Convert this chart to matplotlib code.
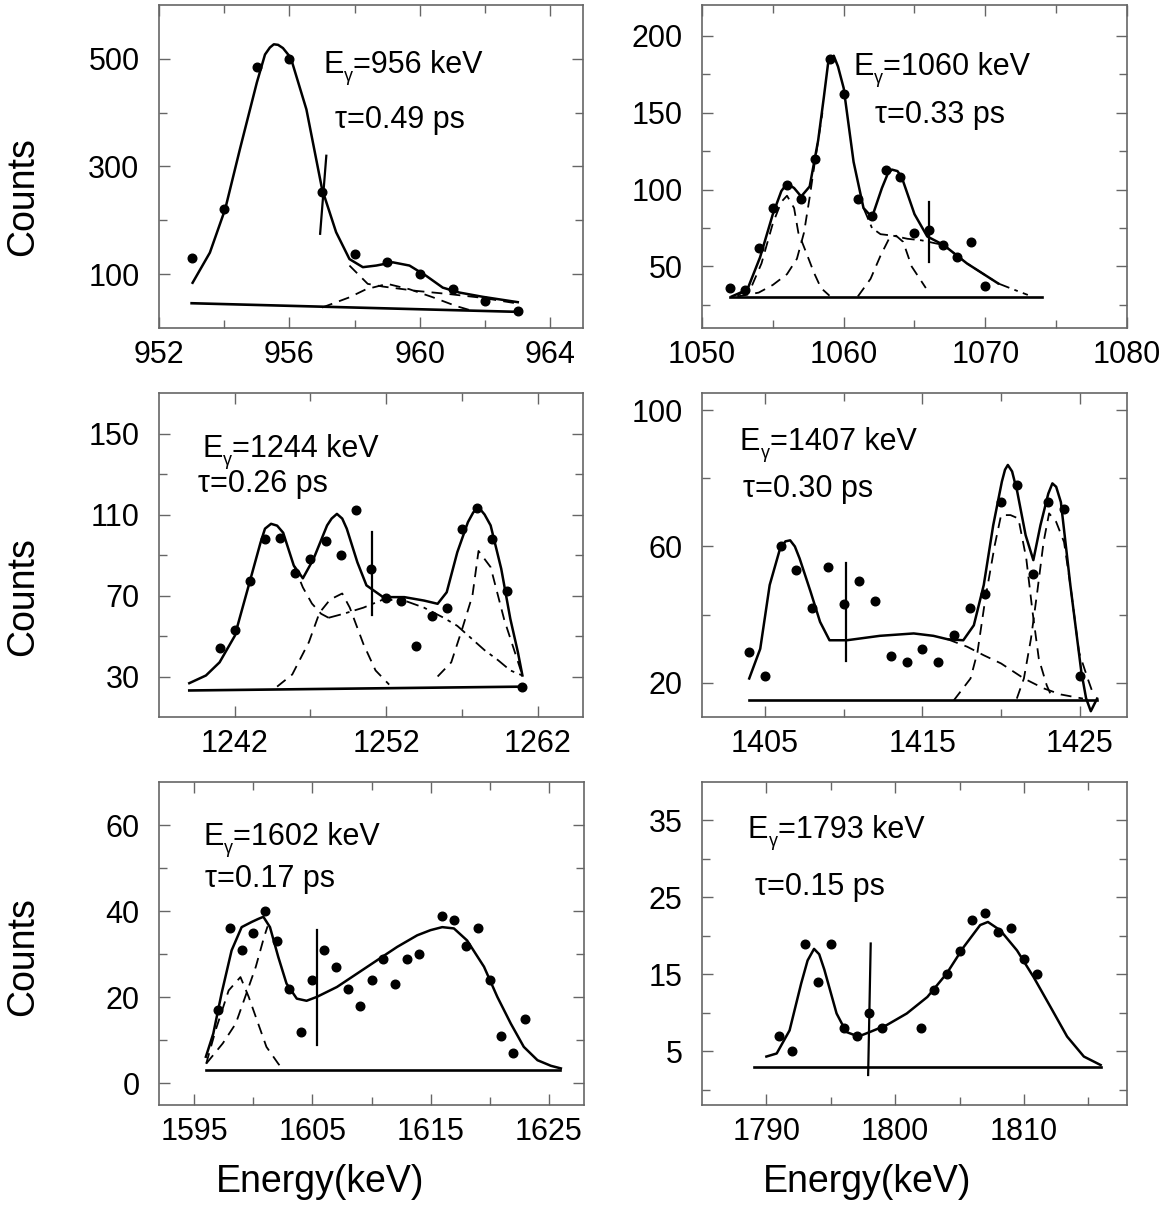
import matplotlib
matplotlib.use("Agg")
import matplotlib.pyplot as plt
from matplotlib.ticker import FixedLocator

plt.rcParams['font.family'] = ['Liberation Sans', 'DejaVu Sans']

## 956 keV
p956_x = [953, 954, 955, 956, 957, 958, 959, 960, 961, 962, 963]
p956_y = [130, 221, 485, 499, 253, 137, 122, 101, 72, 51, 32]
fit956_x = [953.03, 953.56, 954.03, 954.48, 955.0, 955.25, 955.4, 955.52, 955.65, 955.8, 956.04,
            956.52, 957.0, 957.43, 957.84, 958.25, 958.66, 959.17, 959.68, 960.19, 960.7,
            961.2, 961.92, 963.0]
fit956_y = [84, 140, 221, 332, 456, 508, 521, 527, 526, 520, 502,
            406, 258, 178, 128, 113, 116, 122, 116, 97, 75, 66, 58, 48]
base956_x = [953, 963]
base956_y = [46, 30]
peak956_x = [957.0, 957.84, 958.35, 959.0, 959.68, 960.4, 961.1, 961.6]
peak956_y = [38, 57, 72, 82, 72, 57, 41, 32]
tail956_x = [957.84, 958.4, 958.86, 959.88, 960.9, 961.92, 962.94]
tail956_y = [116, 82, 77, 69, 63, 56, 46]
mark956_x = [957.13, 956.94]
mark956_y = [320, 175]

## 1060 keV
p1060_x = [1052, 1053, 1054, 1055, 1056, 1057, 1058, 1059, 1060, 1061, 1062, 1063, 1064,
           1065, 1066, 1067, 1068, 1069, 1070]
p1060_y = [36, 35, 62, 88, 103, 94, 120, 185, 162, 94, 83, 113, 108, 72, 74, 64, 56, 66, 37]
fit1060_x = [1052.1, 1053.2, 1054.1, 1055.0, 1055.6, 1056.0, 1056.5, 1057.0, 1057.6, 1058.2,
             1058.6, 1058.9, 1059.3, 1059.6, 1060.0, 1060.7, 1061.4, 1062.0, 1062.7, 1063.1,
             1063.4, 1063.8, 1064.1, 1065.0, 1065.9, 1067.05, 1068.7, 1070.9]
fit1060_y = [30.5, 35, 56, 84, 99, 104, 101, 95.5, 102, 132, 160, 182, 187, 180, 166, 118, 88,
             82, 101, 110, 113, 112, 108, 84, 69.5, 64, 52, 39]
base1060_x = [1052, 1074]
base1060_y = [30, 30]
pk1_1060_x = [1052.5, 1053.5, 1054.2, 1055.0, 1055.6, 1056.0, 1056.5, 1056.8, 1057.4, 1057.9,
              1058.4, 1059.0]
pk1_1060_y = [31, 37, 52, 78, 92, 96, 88, 72, 58, 46, 36, 31]
pk2_1060_x = [1052.5, 1054.0, 1055.0, 1056.0, 1056.7, 1057.2, 1057.6, 1058.0, 1058.5]
pk2_1060_y = [30.5, 33, 38, 45, 55, 72, 95, 120, 150]
pk3_1060_x = [1061.0, 1061.9, 1062.6, 1063.2, 1063.7, 1064.2, 1064.8, 1065.8]
pk3_1060_y = [30.5, 42, 57, 68, 70, 66, 50, 36]
tail1060_x = [1061.4, 1062.0, 1062.6, 1063.5, 1064.5, 1065.5, 1066.5, 1067.05, 1068.7, 1070.9,
              1072.0, 1073.0]
tail1060_y = [88, 75, 71, 70, 68, 67, 65, 64, 52, 39, 35, 31.5]
mark1060_x = [1066, 1066]
mark1060_y = [53, 92]

## 1244 keV
p1244_x = [1241, 1242, 1243, 1244, 1245, 1246, 1247, 1248, 1249, 1250, 1251, 1252, 1253,
           1254, 1255, 1256, 1257, 1258, 1259, 1260, 1261]
p1244_y = [44, 53, 77, 98, 98.5, 81, 88, 97, 90, 112, 83, 69, 67.5, 45, 60, 64, 103, 113,
           98, 72, 25]
fit1244_x = [1239.0, 1240.1, 1241.0, 1242.0, 1243.0, 1243.7, 1244.0, 1244.4, 1244.8, 1245.2,
             1245.9, 1246.5, 1247.2, 1248.1, 1248.4, 1248.75, 1249.1, 1249.4, 1250.1, 1250.7,
             1251.8, 1253.2, 1254.5, 1255.4, 1256.0, 1256.7, 1257.4, 1257.75, 1258.1, 1258.5,
             1258.9, 1259.6, 1260.2, 1260.7, 1261.0]
fit1244_y = [26.7, 30.5, 37, 50, 77, 96, 103, 105.4, 104.5, 101, 84.8, 78.5, 88, 104.6, 108,
             110.3, 108, 103, 86.4, 75, 69.2, 69.2, 67.5, 65.9, 71.6, 91.4, 106.2, 111, 113.6,
             110, 104.6, 83.2, 58.5, 42, 30.5]
base1244_x = [1239, 1261.1]
base1244_y = [23.1, 25]
pk2_1244_x = [1244.8, 1245.8, 1246.9, 1247.6, 1248.3, 1249.1, 1249.6, 1250.5, 1251.3, 1252.2]
pk2_1244_y = [25, 31, 47, 61.5, 68, 71, 64, 46, 33, 26]
pk4_1244_x = [1255.4, 1256.3, 1257.0, 1257.7, 1258.1, 1258.9, 1259.8, 1260.5, 1261.0]
pk4_1244_y = [30, 37, 53, 70, 92, 84, 58, 42, 30.5]
tl1_1244_x = [1245.9, 1246.5, 1247.1, 1247.7, 1248.2]
tl1_1244_y = [85, 74, 66, 61, 59]
broad1244_x = [1248.2, 1249.2, 1250.5, 1251.8, 1253.2, 1254.5, 1255.8, 1256.7, 1257.6, 1258.5,
               1259.4, 1260.2, 1261.0]
broad1244_y = [59, 61, 64, 68, 67.5, 64, 59, 55, 49, 43, 38, 33, 30.5]
mark1244_x = [1251.07, 1251.07]
mark1244_y = [60.5, 101.6]

## 1407 keV
p1407_x = [1404, 1405, 1406, 1407, 1408, 1409, 1410, 1411, 1412, 1413, 1414, 1415, 1416,
           1417, 1418, 1419, 1420, 1421, 1422, 1423, 1424, 1425]
p1407_y = [29, 22, 60, 53, 42, 54, 43, 50, 44, 28, 26, 30, 26, 34, 42, 46, 73, 78, 52, 73,
           71, 22]
fit1407_x = [1404.0, 1404.7, 1405.3, 1405.96, 1406.3, 1406.6, 1406.9, 1407.2, 1407.9, 1408.5,
             1409.1, 1410.2, 1412.3, 1414.45, 1415.7, 1416.6, 1417.6, 1418.27, 1418.9, 1419.5,
             1420.05, 1420.25, 1420.43, 1420.7, 1421.03, 1421.56, 1422.05, 1422.5, 1423.0,
             1423.26, 1423.5, 1423.8, 1424.4, 1425.1, 1425.4, 1425.7, 1426.1]
fit1407_y = [21.3, 30, 48.7, 59.4, 61.5, 61.8, 60, 56.5, 46.7, 37.9, 32.5, 32.5, 33.8, 34.5,
             33.8, 32.8, 32.5, 36.9, 48.7, 66.2, 79, 82.5, 83.9, 82, 76, 63.3, 56, 66.2, 75.5,
             78.5, 77.5, 73, 48.7, 23.2, 15.5, 11.7, 15.4]
base1407_x = [1404, 1426.1]
base1407_y = [15, 15]
tail1407_x = [1416.6, 1417.85, 1418.9, 1420.0, 1421.45, 1422.7, 1423.8, 1425.2]
tail1407_y = [32.8, 30.6, 28.1, 25.7, 21.3, 18.4, 16.6, 15.4]
pk1_1407_x = [1417.0, 1418.06, 1418.5, 1419.0, 1419.6, 1420.0, 1420.6, 1421.1, 1421.6,
              1422.0, 1422.4, 1422.9, 1423.3]
pk1_1407_y = [14.9, 21.3, 29, 44.7, 60.4, 69.2, 69.2, 68.2, 56.5, 40.8, 27, 19.3, 15]
pk2_1407_x = [1421.0, 1421.45, 1421.9, 1422.3, 1422.7, 1423.05, 1423.5, 1424.0, 1424.4,
              1424.95, 1425.5, 1425.8]
pk2_1407_y = [15.4, 21.3, 33, 46.7, 61.3, 69.7, 67.2, 61.3, 48.7, 29, 21.3, 17.4]
mark1407_x = [1410.14, 1410.14]
mark1407_y = [26.4, 55.3]

## 1602 keV
p1602_x = [1597, 1598, 1599, 1600, 1601, 1602, 1603, 1604, 1605, 1606, 1607, 1608, 1609,
           1610, 1611, 1612, 1613, 1614, 1616, 1617, 1618, 1619, 1620, 1621, 1622, 1623]
p1602_y = [17, 36, 31, 35, 40, 33, 22, 12, 24, 31, 27, 22, 18, 24, 29, 23, 29, 30, 39, 38,
           32, 36, 24, 11, 7, 15]
fit1602_x = [1595.97, 1596.6, 1597.3, 1598.15, 1599.0, 1599.85, 1600.4, 1600.84, 1601.4,
             1602.1, 1602.8, 1603.67, 1604.5, 1605.37, 1607.07, 1608.77, 1610.47, 1612.17,
             1613.87, 1615.0, 1615.99, 1616.98, 1618.1, 1619.53, 1620.66, 1621.8, 1622.9,
             1624.06, 1625.2, 1626.04]
fit1602_y = [6.2, 11.6, 20.9, 30.9, 36.3, 37.5, 38.2, 38.7, 36.3, 29.4, 23.2, 19.7, 19.2, 20.1,
             22.4, 25.5, 28.6, 31.7, 34.4, 35.6, 36.3, 36, 33.2, 27.1, 20.1, 13.9, 8.5, 5.4,
             4.1, 3.5]
base1602_x = [1596, 1626]
base1602_y = [3.1, 3.1]
pk1_1602_x = [1596.0, 1596.8, 1597.9, 1598.9, 1599.6, 1600.4, 1601.1, 1602.1, 1602.5]
pk1_1602_y = [4.6, 12.4, 21.6, 24.7, 20.1, 13.9, 8.5, 4.6, 3.2]
pk2_1602_x = [1596.0, 1597.4, 1598.5, 1599.3, 1600.2, 1600.9, 1601.2]
pk2_1602_y = [4.6, 9.3, 13.9, 20.1, 27.1, 34, 36.5]
mark1602_x = [1605.37, 1605.37]
mark1602_y = [8.9, 35.6]

## 1793 keV
p1793_x = [1791, 1792, 1793, 1794, 1795, 1796, 1797, 1798, 1799, 1802, 1803, 1804, 1805,
           1806, 1807, 1808, 1809, 1810, 1811]
p1793_y = [7, 5, 19, 14, 19, 8, 7, 10, 8, 8, 13, 15, 18, 22, 23, 20.5, 21, 17, 15]
fit1793_x = [1790.0, 1790.8, 1791.8, 1792.7, 1793.2, 1793.7, 1794.1, 1794.5, 1794.8, 1795.45,
             1796.2, 1797.14, 1798.05, 1799.35, 1800.9, 1802.5, 1804.0, 1805.3, 1806.6, 1807.2,
             1808.17, 1809.46, 1810.76, 1812.06, 1813.35, 1814.65, 1815.95]
fit1793_y = [4.3, 4.7, 7.7, 13.8, 16.8, 18.3, 17.6, 15.6, 13.8, 9.9, 7.5, 6.9, 7.5, 8.4, 9.9,
             12.05, 15.1, 18.5, 21.4, 21.8, 20.7, 18.1, 14.6, 10.75, 6.9, 4.3, 3.2]
base1793_x = [1789, 1816]
base1793_y = [3, 3]
mark1793_x = [1798.1, 1797.9]
mark1793_y = [19, 1.9]

## ラベル
energies = ["956", "1060", "1244", "1407", "1602", "1793"]
lifetimes = ["0.49", "0.33", "0.26", "0.30", "0.17", "0.15"]

W, H = 1171, 1213
fig = plt.figure(figsize=(W / 100, H / 100), dpi=100)
spine_col = "#666666"


def px(x, y):
    return x / W, 1 - y / H


def add_panel(l, t, r, b):
    ax = fig.add_axes([l / W, 1 - b / H, (r - l) / W, (b - t) / H])
    for s in ax.spines.values():
        s.set_color(spine_col)
        s.set_linewidth(1.2)
    ax.tick_params(which='both', direction='in', top=True, right=True,
                   color=spine_col, labelsize=22, width=1.0)
    ax.tick_params(which='major', length=8)
    ax.tick_params(which='minor', length=5.5)
    ax.tick_params(axis='x', pad=9)
    ax.tick_params(axis='y', pad=14)
    return ax


def set_axis(ax, xlim, ylim, xmaj, xmin, ymaj, ymin):
    ax.set_xlim(*xlim)
    ax.set_ylim(*ylim)
    ax.xaxis.set_major_locator(FixedLocator(xmaj))
    ax.xaxis.set_minor_locator(FixedLocator(xmin))
    ax.yaxis.set_major_locator(FixedLocator(ymaj))
    ax.yaxis.set_minor_locator(FixedLocator(ymin))


def draw(ax, px_, py_, fx, fy, bx, by, mx, my, dashed=(), dashdot=()):
    for cx, cy in dashed:
        ax.plot(cx, cy, color='k', lw=1.3, dashes=(6, 4))
    for cx, cy in dashdot:
        ax.plot(cx, cy, color='k', lw=1.3, dashes=(7, 3, 2, 3))
    ax.plot(bx, by, color='k', lw=1.9)
    ax.plot(fx, fy, color='k', lw=1.8, solid_joinstyle='round')
    ax.plot(mx, my, color='k', lw=1.6)
    ax.plot(px_, py_, 'o', color='k', ms=6.2)


boxes = [(159, 5, 583, 328), (702, 5, 1127, 328),
         (159, 393, 583, 717), (702, 393, 1127, 717),
         (159, 782, 584, 1105), (702, 782, 1127, 1105)]
axs = [add_panel(*b) for b in boxes]

draw(axs[0], p956_x, p956_y, fit956_x, fit956_y, base956_x, base956_y, mark956_x, mark956_y,
     dashed=[(peak956_x, peak956_y), (tail956_x, tail956_y)])
set_axis(axs[0], (952, 965), (0, 600), [952, 956, 960, 964], [954, 958, 962],
         [100, 300, 500], [200, 400])

draw(axs[1], p1060_x, p1060_y, fit1060_x, fit1060_y, base1060_x, base1060_y,
     mark1060_x, mark1060_y,
     dashed=[(pk1_1060_x, pk1_1060_y), (pk2_1060_x, pk2_1060_y), (pk3_1060_x, pk3_1060_y)],
     dashdot=[(tail1060_x, tail1060_y)])
set_axis(axs[1], (1050, 1080), (10, 220), [1050, 1060, 1070, 1080], [1055, 1065, 1075],
         [50, 100, 150, 200], [25, 75, 125, 175])

draw(axs[2], p1244_x, p1244_y, fit1244_x, fit1244_y, base1244_x, base1244_y,
     mark1244_x, mark1244_y,
     dashed=[(pk2_1244_x, pk2_1244_y), (pk4_1244_x, pk4_1244_y), (tl1_1244_x, tl1_1244_y)],
     dashdot=[(broad1244_x, broad1244_y)])
set_axis(axs[2], (1237, 1265), (10, 170), [1242, 1252, 1262], [1247, 1257],
         [30, 70, 110, 150], [50, 90, 130])

draw(axs[3], p1407_x, p1407_y, fit1407_x, fit1407_y, base1407_x, base1407_y,
     mark1407_x, mark1407_y,
     dashed=[(tail1407_x, tail1407_y), (pk1_1407_x, pk1_1407_y), (pk2_1407_x, pk2_1407_y)])
set_axis(axs[3], (1401, 1428), (10, 105), [1405, 1415, 1425], [1410, 1420],
         [20, 60, 100], [40, 80])

draw(axs[4], p1602_x, p1602_y, fit1602_x, fit1602_y, base1602_x, base1602_y,
     mark1602_x, mark1602_y,
     dashed=[(pk1_1602_x, pk1_1602_y), (pk2_1602_x, pk2_1602_y)])
set_axis(axs[4], (1592, 1628), (-5, 70), [1595, 1605, 1615, 1625], [1600, 1610, 1620],
         [0, 20, 40, 60], [10, 30, 50])

draw(axs[5], p1793_x, p1793_y, fit1793_x, fit1793_y, base1793_x, base1793_y,
     mark1793_x, mark1793_y)
set_axis(axs[5], (1785, 1818), (-2, 40), [1790, 1800, 1810], [1795, 1805, 1815],
         [5, 15, 25, 35], [0, 10, 20, 30])

## 注記 (左端x, ベースラインy) [px]
e_pos = [(323, 73), (853, 75), (202, 457), (740, 450), (203, 845), (748, 838)]
t_pos = [(335, 128), (875, 123), (198, 492), (743, 497), (205, 887), (755, 895)]
for e, t, ep, tp in zip(energies, lifetimes, e_pos, t_pos):
    ex, ey = ep
    fig.text(*px(ex, ey), "E", fontsize=22, ha='left', va='baseline')
    fig.text(*px(ex + 21, ey + 8), "γ", fontsize=13, ha='left', va='baseline')
    fig.text(*px(ex + 30, ey), "=" + e + " keV", fontsize=22, ha='left', va='baseline')
    fig.text(*px(*tp), "τ=" + t + " ps", fontsize=22, ha='left', va='baseline')

for yc in [197, 597, 957]:
    fig.text(*px(23, yc), "Counts", rotation=90, fontsize=27, ha='center', va='center')
for xc in [320, 867]:
    fig.text(*px(xc, 1182), "Energy(keV)", fontsize=27, ha='center', va='center')

fig.savefig("out.png", dpi=100)
